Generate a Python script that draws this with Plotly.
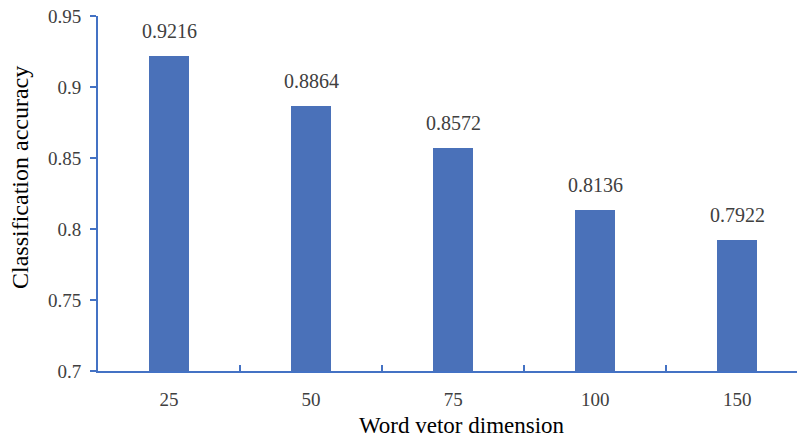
import plotly.graph_objects as go

# Classification accuracy by word vector dimension
dimensions = ["25", "50", "75", "100", "150"]
accuracy = [0.9216, 0.8864, 0.8572, 0.8136, 0.7922]
y_ticks = [0.7, 0.75, 0.8, 0.85, 0.9, 0.95]
y_tick_text = ["0.7", "0.75", "0.8", "0.85", "0.9", "0.95"]

bar_color = "#4A71B9"
axis_color = "#4472C4"
serif = "Liberation Serif, Times New Roman, serif"

fig = go.Figure(
    go.Bar(
        x=dimensions,
        y=accuracy,
        marker=dict(color=bar_color, line=dict(width=0)),
        width=0.28,
    )
)

# value labels above each bar (category index used as x position)
for i, v in enumerate(accuracy):
    fig.add_annotation(
        x=i, y=v, text=f"{v:.4f}", showarrow=False,
        yanchor="bottom", yshift=12,
        font=dict(family=serif, size=20, color="#404040"),
    )

fig.update_layout(
    width=797, height=438,
    margin=dict(l=98, r=0, t=16, b=67),
    paper_bgcolor="white", plot_bgcolor="white",
    showlegend=False,
    font=dict(family=serif, size=19, color="#404040"),
    bargap=0,
)

fig.update_xaxes(
    type="category",
    range=[-0.5, 4.42],
    showline=True, linecolor=axis_color, linewidth=2,
    ticks="inside", tickson="boundaries", ticklen=6, tickwidth=2, tickcolor=axis_color,
    tickfont=dict(family=serif, size=19, color="#404040"),
    ticklabelstandoff=10,
    showgrid=False, zeroline=False,
    title=None,
)

fig.update_yaxes(
    range=[0.7, 0.95],
    tickvals=y_ticks, ticktext=y_tick_text,
    showline=True, linecolor=axis_color, linewidth=2,
    ticks="outside", ticklen=6, tickwidth=2, tickcolor=axis_color,
    tickfont=dict(family=serif, size=19, color="#404040"),
    ticklabelstandoff=5,
    showgrid=False, zeroline=False,
    title=None,
)

# axis titles
fig.add_annotation(
    text="Word vetor dimension", xref="paper", yref="paper",
    x=(462 - 98) / 699, y=-54 / 355, showarrow=False,
    xanchor="center", yanchor="middle",
    font=dict(family=serif, size=23, color="#000000"),
)
fig.add_annotation(
    text="Classification accuracy", xref="paper", yref="paper",
    x=-78 / 699, y=(371 - 178) / 355, showarrow=False, textangle=-90,
    xanchor="center", yanchor="middle",
    font=dict(family=serif, size=24, color="#000000"),
)

fig.write_html("out.html")
